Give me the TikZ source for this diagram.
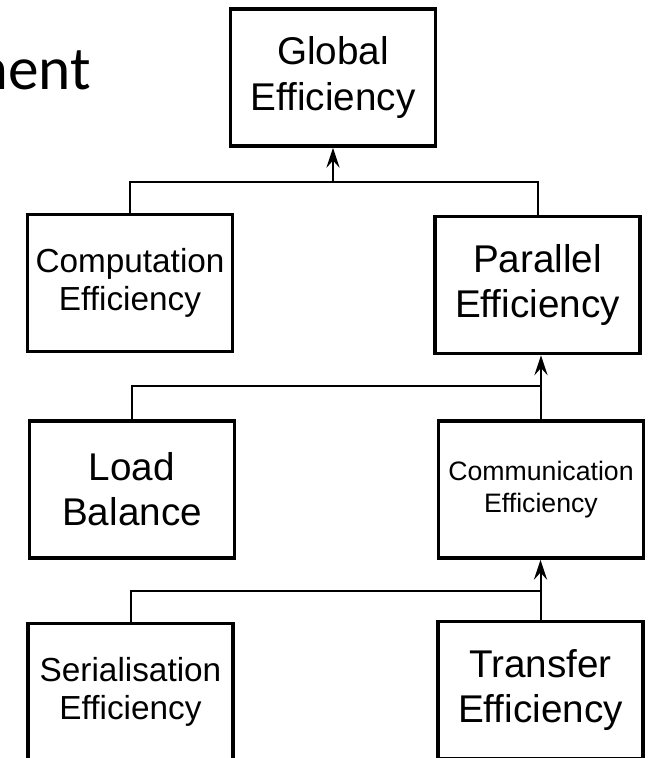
\documentclass[tikz,border=0pt]{standalone}
\usepackage{fontspec}
\setmainfont{Liberation Sans}
\newfontfamily\titlefont{Carlito}
\usetikzlibrary{arrows.meta}

\begin{document}
\begin{tikzpicture}[
    x=0.75pt,
    y=-0.75pt,
    box/.style={draw,line width=2.8pt,minimum width=153.75pt,minimum height=102.75pt,
        align=center,inner sep=0pt},
    big/.style={font=\fontsize{29}{34}\selectfont},
    mid/.style={font=\fontsize{25}{28.5}\selectfont},
    small/.style={font=\fontsize{20}{24}\selectfont},
    link/.style={line width=1.5pt},
    feed/.style={line width=1.5pt,-{Stealth[length=15pt,width=10pt,inset=5.5pt]}}
]
    \useasboundingbox (0,0) rectangle (651,758);
    \clip (0,0) rectangle (651,758);

    \node[font=\titlefont\fontsize{46}{50}\selectfont,anchor=base east,inner sep=0pt]
        (title) at (91,89) {ment};

    \node[box,big] (glob) at (333,77.5) {Global\\Efficiency};
    \node[box,mid] (comp) at (130,283) {Computation\\Efficiency};
    \node[box,big] (par) at (537.5,285) {Parallel\\Efficiency};
    \node[box,big] (load) at (132,489.5) {Load\\Balance};
    \node[box,small] (comm) at (541,489.5) {Communication\\Efficiency};
    \node[box,mid] (ser) at (130.5,692) {Serialisation\\Efficiency};
    \node[box,big] (trans) at (540.5,690) {Transfer\\Efficiency};

    \coordinate (b1) at (333,182);
    \coordinate (b2) at (541,386);
    \coordinate (b3) at (540.5,591);

    \draw[link] (comp.north) |- (b1) -| (par.north);
    \draw[feed] (b1) -- (glob.south);
    \draw[link] (load.north) |- (b2);
    \draw[feed] (comm.north) -- (comm.north |- par.south);
    \draw[link] (ser.north) |- (b3);
    \draw[feed] (trans.north) -- (trans.north |- comm.south);
\end{tikzpicture}
\end{document}
